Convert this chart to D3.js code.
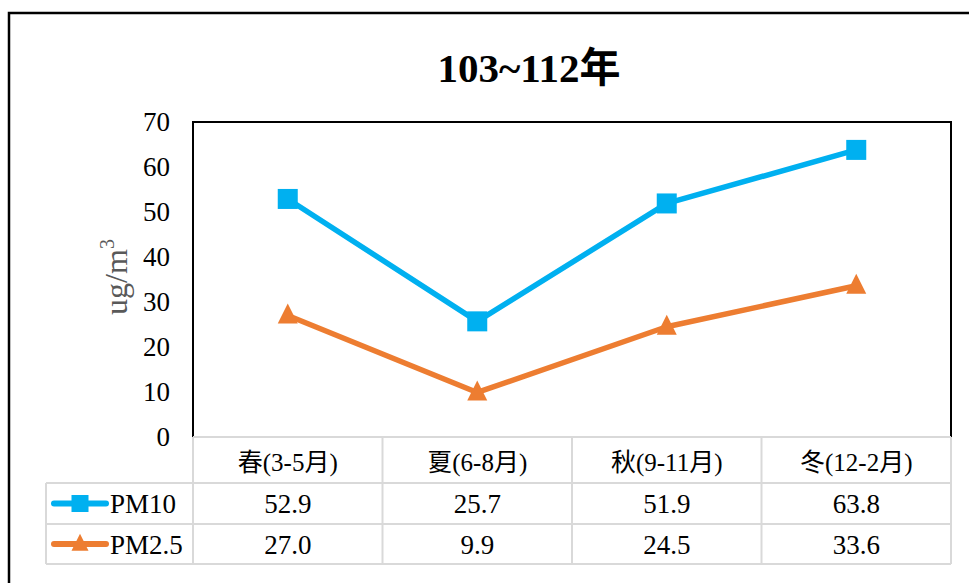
<!DOCTYPE html>
<html>
<head>
<meta charset="utf-8">
<script src="https://cdn.jsdelivr.net/npm/d3@7"></script>
<style>
  html, body { margin: 0; padding: 0; background: #fff; }
  svg { display: block; }
  text { font-family: "Liberation Serif", "Times New Roman", Tinos, "DejaVu Serif", "Noto Sans CJK TC", serif; }
</style>
</head>
<body>
<svg id="chart" width="969" height="583"></svg>
<script>
// Seasonal averages of particulate matter, ROC years 103~112
const titleText = "103~112年";
const categories = ["春(3-5月)", "夏(6-8月)", "秋(9-11月)", "冬(12-2月)"];
const pm10 = [52.9, 25.7, 51.9, 63.8];
const pm25 = [27.0, 9.9, 24.5, 33.6];
const seriesNames = ["PM10", "PM2.5"];
const yTicks = [0, 10, 20, 30, 40, 50, 60, 70];

const FONT = '"Liberation Serif", "Times New Roman", Tinos, "DejaVu Serif", "Noto Sans CJK TC", serif';

const series = [
  { name: seriesNames[0], values: pm10, color: "#00B0F0", marker: "square" },
  { name: seriesNames[1], values: pm25, color: "#ED7D31", marker: "triangle" }
];

const svg = d3.select("#chart");

// Layout
const plot = { left: 193, right: 951, top: 122, bottom: 437 };
const tableLeft = 46;
const rowEdges = [437, 483, 524, 564];
const gridColor = "#d9d9d9";

// Outer chart frame (extends past the right/bottom edges)
svg.append("path")
  .attr("d", `M9,600 L9,13 L1000,13`)
  .attr("fill", "none").attr("stroke", "#000").attr("stroke-width", 2.5);

// Title
svg.append("text")
  .attr("x", 529).attr("y", 82)
  .attr("text-anchor", "middle")
  .attr("font-family", FONT)
  .attr("font-size", 41).attr("font-weight", "bold")
  .text(titleText);

// Scales
const x = d3.scaleBand().domain(categories).range([plot.left, plot.right]).padding(0);
const cx = c => x(c) + x.bandwidth() / 2;
const y = d3.scaleLinear().domain([0, 70]).range([plot.bottom, plot.top]);

// Y axis labels
const yAxis = d3.axisLeft(y).tickValues(yTicks).tickSize(0).tickPadding(23);
const yG = svg.append("g").attr("transform", `translate(${plot.left},0)`).call(yAxis);
yG.attr("font-family", null).attr("font-size", null);
yG.select(".domain").remove();
yG.selectAll("text")
  .attr("font-size", 27)
  .attr("font-family", FONT)
  .attr("fill", "#000");

// Y axis title
const yt = svg.append("text")
  .attr("transform", `translate(127,277) rotate(-90)`)
  .attr("text-anchor", "middle")
  .attr("font-family", FONT)
  .attr("font-size", 32)
  .attr("fill", "#595959");
yt.append("tspan").text("ug/m");
yt.append("tspan").attr("font-size", 20).attr("dy", -13).text("3");

// Plot area border (top, left, right)
svg.append("path")
  .attr("d", `M${plot.left},${plot.bottom} L${plot.left},${plot.top} L${plot.right},${plot.top} L${plot.right},${plot.bottom}`)
  .attr("fill", "none").attr("stroke", "#000").attr("stroke-width", 2);

// Data table grid
const colEdges = [plot.left].concat(categories.map(c => x(c) + x.bandwidth()));
const grid = svg.append("g").attr("stroke", gridColor).attr("stroke-width", 2).attr("fill", "none");
grid.append("line").attr("x1", plot.left).attr("x2", plot.right).attr("y1", rowEdges[0]).attr("y2", rowEdges[0]);
rowEdges.slice(1).forEach(r => {
  grid.append("line").attr("x1", tableLeft).attr("x2", plot.right).attr("y1", r).attr("y2", r);
});
colEdges.forEach(c => {
  grid.append("line").attr("x1", c).attr("x2", c).attr("y1", rowEdges[0]).attr("y2", rowEdges[3]);
});
grid.append("line").attr("x1", tableLeft).attr("x2", tableLeft).attr("y1", rowEdges[1]).attr("y2", rowEdges[3]);

// Header row: categories
svg.append("g").selectAll("text").data(categories).join("text")
  .attr("x", d => cx(d))
  .attr("y", rowEdges[0] + 34)
  .attr("text-anchor", "middle")
  .attr("font-family", FONT)
  .attr("font-size", 25)
  .text(d => d);

// Marker shapes
function drawMarker(g, type, px, py, color, size) {
  if (type === "square") {
    g.append("rect")
      .attr("x", px - size / 2).attr("y", py - size / 2)
      .attr("width", size).attr("height", size)
      .attr("fill", color);
  } else {
    g.append("path")
      .attr("d", `M${px},${py - size * 0.6} L${px + size / 2},${py + size * 0.4} L${px - size / 2},${py + size * 0.4} Z`)
      .attr("fill", color);
  }
}

// Series rows in the table
series.forEach((s, i) => {
  const rowMid = (rowEdges[i + 1] + rowEdges[i + 2]) / 2;
  const lg = svg.append("g");
  lg.append("line")
    .attr("x1", 54).attr("x2", 106).attr("y1", rowMid).attr("y2", rowMid)
    .attr("stroke", s.color).attr("stroke-width", 6).attr("stroke-linecap", "round");
  drawMarker(lg, s.marker, 80, rowMid, s.color, 17);
  lg.append("text")
    .attr("x", 110).attr("y", rowMid + 9.5)
    .attr("font-family", FONT)
    .attr("font-size", 27)
    .text(s.name);

  svg.append("g").selectAll("text").data(s.values).join("text")
    .attr("x", (d, j) => cx(categories[j]))
    .attr("y", rowMid + 9.5)
    .attr("text-anchor", "middle")
    .attr("font-family", FONT)
    .attr("font-size", 27)
    .text(d => d.toFixed(1));
});

// Lines and markers
const line = d3.line().x((d, j) => cx(categories[j])).y(d => y(d));
series.forEach(s => {
  svg.append("path")
    .datum(s.values)
    .attr("d", line)
    .attr("fill", "none")
    .attr("stroke", s.color)
    .attr("stroke-width", 5.5)
    .attr("stroke-linejoin", "round");
  const mg = svg.append("g");
  s.values.forEach((v, j) => drawMarker(mg, s.marker, cx(categories[j]), y(v), s.color, 20));
});
</script>
</body>
</html>
